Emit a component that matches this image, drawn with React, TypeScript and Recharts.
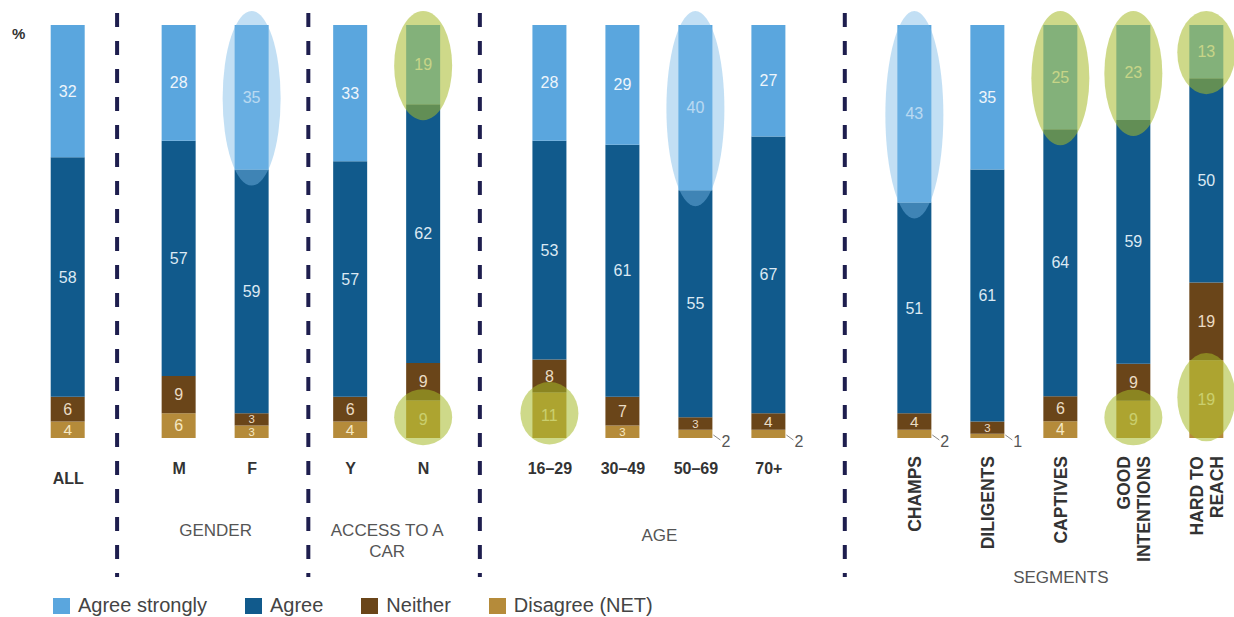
import { BarChart, Bar, XAxis, YAxis, LabelList, ReferenceLine } from "recharts"

// ---- data (bottom-to-top stack order) ----
const categories = [
  "ALL", "M", "F", "Y", "N", "16–29", "30–49", "50–69", "70+",
  "CHAMPS", "DILIGENTS", "CAPTIVES", "GOOD INTENTIONS", "HARD TO REACH",
]
const categoryGroup = [0, 1, 1, 2, 2, 3, 3, 3, 3, 4, 4, 4, 4, 4]
const groupLabels = ["", "GENDER", "ACCESS TO A CAR", "AGE", "SEGMENTS"]

const disagree = [4, 6, 3, 4, 9, 11, 3, 2, 2, 2, 1, 4, 9, 19]
const neither = [6, 9, 3, 6, 9, 8, 7, 3, 4, 4, 3, 6, 9, 19]
const agree = [58, 57, 59, 57, 62, 53, 61, 55, 67, 51, 61, 64, 59, 50]
const agreeStrongly = [32, 28, 35, 33, 19, 28, 29, 40, 27, 43, 35, 25, 23, 13]

// circled cells in the reference
const blueCircledTop = ["F", "50–69", "CHAMPS"]
const greenCircledTop = ["N", "CAPTIVES", "GOOD INTENTIONS", "HARD TO REACH"]
const greenCircledBottom = ["N", "16–29", "GOOD INTENTIONS", "HARD TO REACH"]

// ---- layout ----
const W = 1234
const H = 617
const FONT = '"Liberation Sans", Arial, sans-serif'
const GROUP_GAP = [0, 1.52, 1.35, 1.73, 2.0] // gap (in bar steps) before each group
const DIVIDERS = [0.67, 3.29, 5.64, 10.64]
const X_DOMAIN: [number, number] = [-0.4, 15.945]
const GROUP_LABEL_Y = [0, 530, 530, 535, 577]

const COLORS = {
  strongly: "#5aa6de",
  agree: "#115a8c",
  neither: "#6a4519",
  disagree: "#b58b3a",
}

const positions: number[] = []
{
  let u = 0
  categories.forEach((_, i) => {
    if (i > 0) u += categoryGroup[i] !== categoryGroup[i - 1] ? GROUP_GAP[categoryGroup[i]] : 1
    positions.push(u)
  })
}

const groupCenters = groupLabels.map((_, g) => {
  const ps = positions.filter((_, i) => categoryGroup[i] === g)
  return ps.reduce((a, b) => a + b, 0) / ps.length
})

const data = categories.map((name, i) => ({
  name,
  pos: positions[i],
  disagree: disagree[i],
  neither: neither[i],
  agree: agree[i],
  strongly: agreeStrongly[i],
}))

const legendItems = [
  { label: "Agree strongly", color: COLORS.strongly },
  { label: "Agree", color: COLORS.agree },
  { label: "Neither", color: COLORS.neither },
  { label: "Disagree (NET)", color: COLORS.disagree },
]

/** greedy word wrap by character count */
function wrap(text: string, max: number): string[] {
  const out: string[] = []
  let line = ""
  for (const w of text.split(" ")) {
    if (line && (line + " " + w).length > max) {
      out.push(line)
      line = w
    } else {
      line = line ? line + " " + w : w
    }
  }
  if (line) out.push(line)
  return out
}

function box(props: any) {
  const vb = props.viewBox && props.viewBox.width !== undefined ? props.viewBox : props
  return { x: +vb.x, y: +vb.y, width: +vb.width, height: +vb.height }
}

const valueLabel = (color: string) => (props: any) => {
  const { x, y, width, height } = box(props)
  const value = props.value
  if (value < 3) {
    const bx = x + width
    const by = y + height
    return (
      <g>
        <path d={`M${bx + 1},${by - 3} L${bx + 8},${by + 2}`} stroke="#888" fill="none" />
        <text x={bx + 9} y={by + 9} fontSize={16} fill="#555" fontFamily={FONT}>
          {value}
        </text>
      </g>
    )
  }
  return (
    <text
      x={x + width / 2}
      y={y + height / 2}
      dy="0.35em"
      textAnchor="middle"
      fontSize={Math.min(16, height - 1)}
      fill={color}
      fontFamily={FONT}
    >
      {value}
    </text>
  )
}

const highlight = (cats: string[], fill: string, top: boolean) => (props: any) => {
  const idx = props.index
  if (idx === undefined || !cats.includes(categories[idx])) return null
  const { x, y, width, height } = box(props)
  const hh = height / 2
  const cy = top ? y + hh + 1 : y + hh - 2
  const ry = top ? hh + 15 : hh * 0.8 + 13
  return <ellipse cx={x + width / 2} cy={cy} rx={width / 2 + 12} ry={ry} fill={fill} />
}

function BarTick(props: any) {
  const { x, payload } = props
  const i = positions.findIndex((p) => Math.abs(p - payload.value) < 1e-6)
  if (i < 0) return null
  const lines = wrap(categories[i], 11)
  if (categoryGroup[i] === 4) {
    const top = 456
    return (
      <text
        transform={`rotate(-90 ${x} ${top})`}
        x={x}
        y={top}
        textAnchor="end"
        fontSize={17.5}
        fontWeight="bold"
        fill="#333"
        fontFamily={FONT}
      >
        {lines.map((l, k) => (
          <tspan key={k} x={x} dy={k === 0 ? `${0.35 - (lines.length - 1) * 0.57}em` : "1.15em"}>
            {l}
          </tspan>
        ))}
      </text>
    )
  }
  const cy = categoryGroup[i] === 0 ? 478 : 468
  return (
    <text x={x} y={cy} dy="0.35em" textAnchor="middle" fontSize={16} fontWeight="bold" fill="#333" fontFamily={FONT}>
      {categories[i]}
    </text>
  )
}

// group caption drawn as the shape of an invisible reference line at the group's centre
const groupCaption = (g: number) => (props: any) => {
  const x = props.x1
  const lines = wrap(groupLabels[g], 11)
  return (
    <text x={x} y={GROUP_LABEL_Y[g]} textAnchor="middle" fontSize={17} fill="#555" fontFamily={FONT}>
      {lines.map((l, k) => (
        <tspan key={k} x={x} dy={k === 0 ? "0.35em" : "1.25em"}>
          {l}
        </tspan>
      ))}
    </text>
  )
}

function Divider(props: any) {
  const y1 = Math.min(props.y1, props.y2)
  return (
    <line
      x1={props.x1}
      x2={props.x2}
      y1={y1 - 12}
      y2={577}
      stroke="#1e1e4e"
      strokeWidth={4}
      strokeDasharray="14 14"
    />
  )
}

export default function App() {
  return (
    <div
      style={{
        position: "absolute",
        left: 0,
        top: 0,
        width: W,
        height: H,
        background: "#fff",
        fontFamily: FONT,
        overflow: "hidden",
      }}
    >
      <BarChart
        width={W}
        height={H}
        data={data}
        stackOffset="expand"
        margin={{ top: 25, right: 2, left: 39, bottom: 149 }}
      >
        <XAxis
          dataKey="pos"
          type="number"
          domain={X_DOMAIN}
          ticks={positions}
          interval={0}
          height={30}
          axisLine={false}
          tickLine={false}
          tick={<BarTick />}
        />
        <YAxis hide domain={[0, 1]} />
        {DIVIDERS.map((d) => (
          <ReferenceLine key={d} x={d} shape={Divider} ifOverflow="visible" />
        ))}
        {groupLabels.map((label, g) =>
          label ? (
            <ReferenceLine key={label} x={groupCenters[g]} shape={groupCaption(g)} ifOverflow="visible" />
          ) : null
        )}
        <Bar dataKey="disagree" stackId="a" fill={COLORS.disagree} barSize={34} isAnimationActive={false}>
          <LabelList dataKey="disagree" content={valueLabel("#f6e8c4")} />
          <LabelList dataKey="disagree" content={highlight(greenCircledBottom, "rgba(165,185,40,0.55)", false)} />
        </Bar>
        <Bar dataKey="neither" stackId="a" fill={COLORS.neither} barSize={34} isAnimationActive={false}>
          <LabelList dataKey="neither" content={valueLabel("#eadcc4")} />
        </Bar>
        <Bar dataKey="agree" stackId="a" fill={COLORS.agree} barSize={34} isAnimationActive={false}>
          <LabelList dataKey="agree" content={valueLabel("#dce9f3")} />
        </Bar>
        <Bar dataKey="strongly" stackId="a" fill={COLORS.strongly} barSize={34} isAnimationActive={false}>
          <LabelList dataKey="strongly" content={valueLabel("#eef5fb")} />
          <LabelList dataKey="strongly" content={highlight(blueCircledTop, "rgba(120,185,230,0.45)", true)} />
          <LabelList dataKey="strongly" content={highlight(greenCircledTop, "rgba(165,185,40,0.55)", true)} />
        </Bar>
      </BarChart>

      <div style={{ position: "absolute", left: 12, top: 25, fontSize: 15, fontWeight: "bold", color: "#333" }}>%</div>

      <div
        style={{
          position: "absolute",
          left: 53,
          top: 594,
          display: "flex",
          alignItems: "center",
          fontSize: 20,
          color: "#444",
        }}
      >
        {legendItems.map((it) => (
          <div key={it.label} style={{ display: "flex", alignItems: "center", marginRight: 38 }}>
            <span style={{ width: 17, height: 16, background: it.color, marginRight: 8, display: "inline-block" }} />
            <span>{it.label}</span>
          </div>
        ))}
      </div>
    </div>
  )
}
